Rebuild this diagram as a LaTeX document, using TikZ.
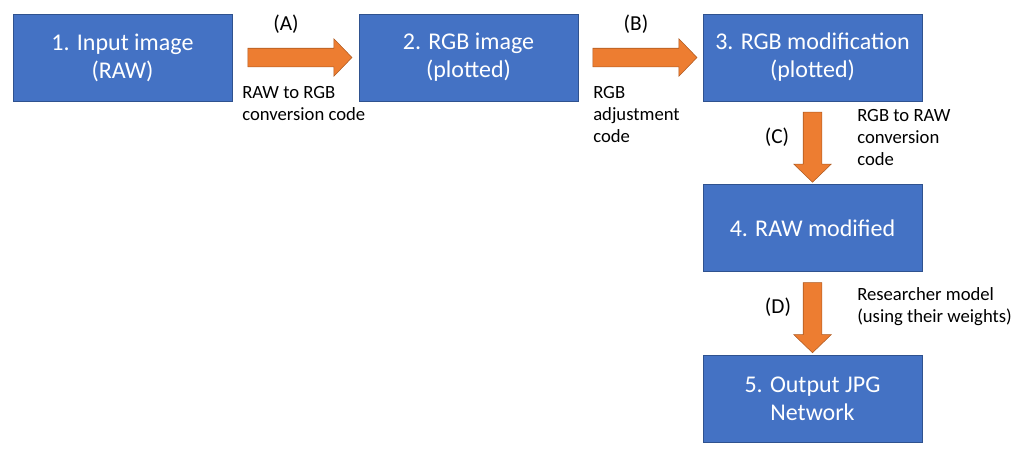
\documentclass[tikz,border=0pt]{standalone}
\usepackage{fontspec}
\setmainfont{Carlito}
\usetikzlibrary{shapes,positioning,calc}
\definecolor{boxblue}{HTML}{4472C4}
\definecolor{boxline}{HTML}{2F528F}
\definecolor{arroworange}{HTML}{ED7D31}
\definecolor{arrowline}{HTML}{AE5A21}

\begin{document}
\begin{tikzpicture}
[x=0.75pt,y=-0.75pt,
%
step box/.style={shape=rectangle,fill=boxblue,draw=boxline,thin,
   minimum width=164.25pt,minimum height=65.25pt,inner sep=0pt,
   text=white,align=center,font=\fontsize{18}{21}\selectfont},
flow/.style={shape=single arrow,fill=arroworange,draw=arrowline,thin,
   single arrow head extend=7.1pt,single arrow tip angle=92},
across/.style={flow,inner xsep=0pt,inner ysep=6.75pt,minimum height=78pt},
down/.style={flow,inner xsep=6.75pt,inner ysep=0pt,minimum height=52.5pt,
   shape border rotate=270},
tag/.style={font=\fontsize{16}{19}\selectfont,inner sep=0pt},
note/.style={font=\fontsize{14}{16.5}\selectfont,align=left,inner sep=0pt,anchor=west}]
%
\useasboundingbox (0,0) rectangle (1025,457);
%
% boxes
\node (n1) [step box] at (122.5,57.5) {1. Input image\\(RAW)};
\node (n2) [step box] at (468.5,57.5) {2. RGB image\\(plotted)};
\node (n3) [step box] at (812.5,57.5) {3. RGB modification\\(plotted)};
\node (n4) [step box] at (812.5,228) {4. RAW modified};
\node (n5) [step box] at (812.5,398.5) {5. Output JPG\\Network};
%%
% arrows
\node (fA) [across] at ($(n1.east)!.5!(n2.west)$) {};
\node (fB) [across] at ($(n2.east)!.5!(n3.west)$) {};
\node (fC) [down] at ($(n3.south)!.5!(n4.north)$) {};
\node (fD) [down] at ($(n4.south)!.5!(n5.north)$) {};
%%
% labels
\node (tA) [tag] at (286,24) {(A)};
\node (tB) [tag] at (636,24) {(B)};
\node (tC) [tag] at (777,137) {(C)};
\node (tD) [tag] at (778,307) {(D)};
\node (cA) [note] at (242,104) {RAW to RGB\\conversion code};
\node (cB) [note] at (593,115) {RGB\\adjustment\\code};
\node (cC) [note] at (857,138) {RGB to RAW\\conversion\\code};
\node (cD) [note] at (857,306.5) {Researcher model\\(using their weights)};
\end{tikzpicture}
\end{document}
